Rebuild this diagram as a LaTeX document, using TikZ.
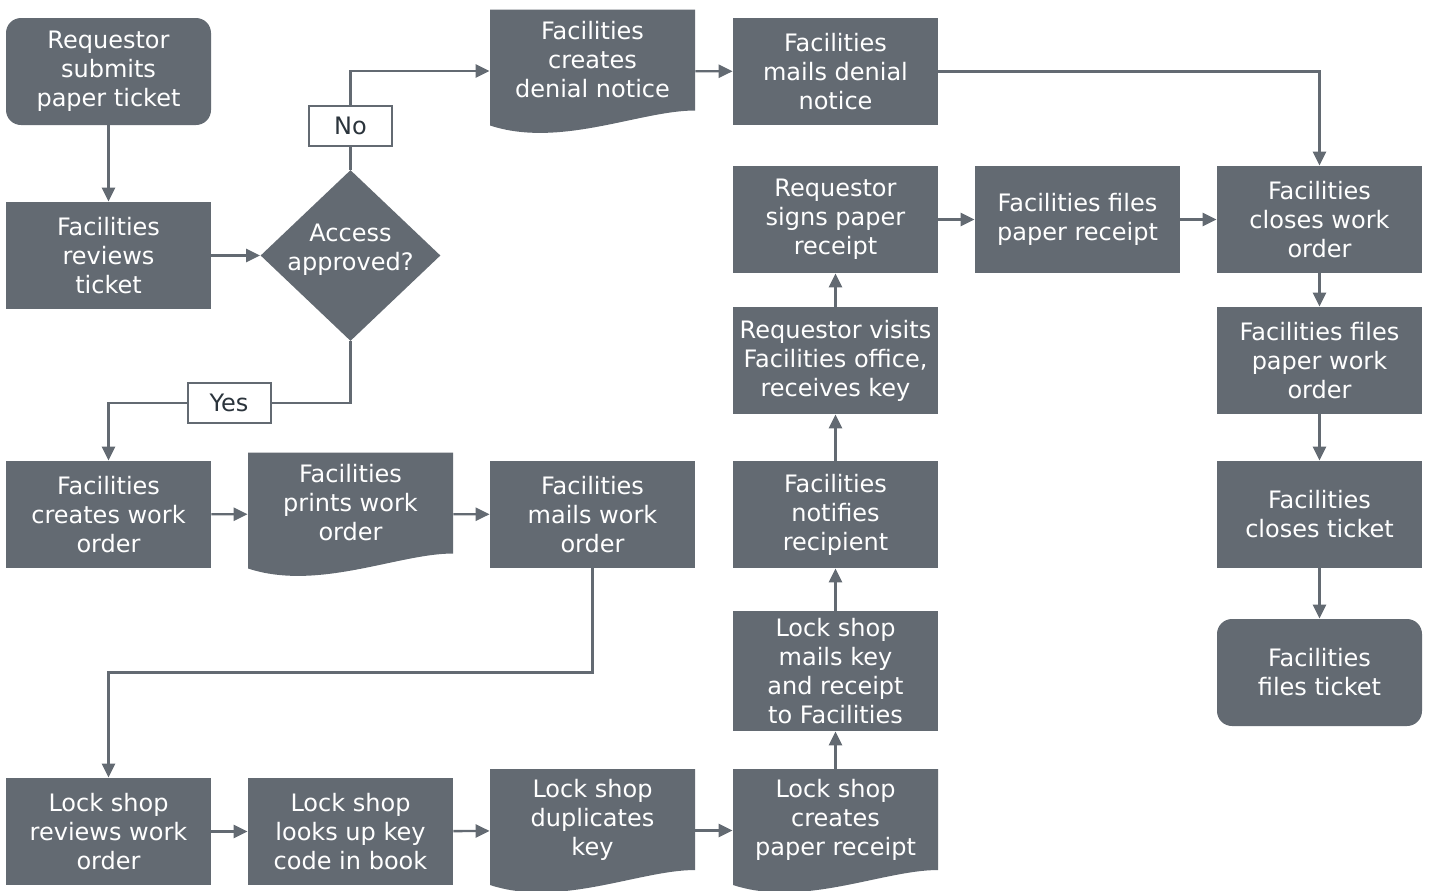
\documentclass[tikz,border=0pt]{standalone}
\usepackage{fontspec}
\setmainfont{DejaVu Sans}
\usetikzlibrary{arrows.meta,shapes.geometric}
\definecolor{flowgray}{RGB}{99,106,114}
\definecolor{labeltext}{RGB}{43,52,60}

\begin{document}
\begin{tikzpicture}[x=0.5pt, y=-0.5pt, > = {Triangle[length=7pt,width=6.5pt]},
    flow/.style = {->, line width=1.2pt, draw=flowgray},
    connector/.style = {line width=1.2pt, draw=flowgray},
    boxtxt/.style = {text=white, align=center, font=\fontsize{12}{14.5}\selectfont},
    process/.style = {boxtxt, rectangle, fill=flowgray, minimum width=102.5pt, minimum height=53.5pt, inner sep=0pt},
    terminal/.style = {process, rounded corners=7.5pt},
    paperdoc/.style = {rectangle, minimum width=102.5pt, minimum height=61.5pt, inner sep=0pt,
        path picture={\fill[flowgray] (-102.5,-61.5) -- (102.5,-61.5) -- (102.5,39.5) .. controls (47.5,39.5) and (-32.5,77.5) .. (-102.5,54.5) -- cycle;},
        label={[boxtxt, yshift=5.5pt]center:#1}},
    decision/.style = {diamond, fill=flowgray, minimum width=90pt, minimum height=85.5pt, inner sep=0pt, label={[boxtxt, yshift=3pt]center:#1}},
    answer/.style = {rectangle, fill=white, draw=flowgray, line width=1pt, text=labeltext, minimum width=41.5pt, minimum height=20pt, inner sep=0pt, font=\fontsize{12}{14.5}\selectfont}]

    \useasboundingbox (0,0) rectangle (1431,890);

    % request and decision
    \node[terminal] (rst) at (108.5,71.5) {Requestor\\submits\\paper ticket};
    \node[process] (frt) at (108.5,255.5) {Facilities\\reviews\\ticket};
    \node[decision={Access\\approved?}] (acc) at (350.5,255.5) {};
    \node[answer] (no) at (350.5,126) {No};
    \node[answer] (yes) at (229,403) {Yes};

    % denial branch
    \node[paperdoc={Facilities\\creates\\denial notice}] (cdn) at (592.5,71) {};
    \node[process] (mdn) at (835.5,71.5) {Facilities\\mails denial\\notice};

    % work order branch
    \node[process] (cwo) at (108.5,514.5) {Facilities\\creates work\\order};
    \node[paperdoc={Facilities\\prints work\\order}] (pwo) at (350.5,514) {};
    \node[process] (mwo) at (592.5,514.5) {Facilities\\mails work\\order};
    \node[process] (lrw) at (108.5,831.5) {Lock shop\\reviews work\\order};
    \node[process] (llu) at (350.5,831.5) {Lock shop\\looks up key\\code in book};
    \node[paperdoc={Lock shop\\duplicates\\key}] (ldk) at (592.5,830.5) {};
    \node[paperdoc={Lock shop\\creates\\paper receipt}] (lcr) at (835.5,830.5) {};
    \node[process, minimum height=60pt] (lmk) at (835.5,671) {Lock shop\\mails key\\and receipt\\to Facilities};
    \node[process] (fnr) at (835.5,514.5) {Facilities\\notifies\\recipient};
    \node[process] (rvk) at (835.5,360.5) {Requestor visits\\Facilities office,\\receives key};
    \node[process] (rsr) at (835.5,219.5) {Requestor\\signs paper\\receipt};
    \node[process] (ffr) at (1077.5,219.5) {Facilities files\\paper receipt};

    % closing
    \node[process] (fcw) at (1319.5,219.5) {Facilities\\closes work\\order};
    \node[process] (fpw) at (1319.5,360.5) {Facilities files\\paper work\\order};
    \node[process] (fct) at (1319.5,514.5) {Facilities\\closes ticket};
    \node[terminal] (fft) at (1319.5,672.5) {Facilities\\files ticket};

    % arrows
    \draw[flow] (rst) -- (frt);
    \draw[flow] (frt) -- (acc);
    \draw[connector] (acc) -- (no);
    \draw[flow] (no) |- (cdn);
    \draw[flow] (cdn) -- (mdn);
    \draw[flow] (mdn) -| (fcw);
    \draw[connector] (acc) |- (yes);
    \draw[flow] (yes) -| (cwo);
    \draw[flow] (cwo) -- (pwo);
    \draw[flow] (pwo) -- (mwo);
    \draw[flow] (mwo.south) -- ++(0,104) -| (lrw.north);
    \draw[flow] (lrw) -- (llu);
    \draw[flow] (llu) -- (ldk);
    \draw[flow] (ldk) -- (lcr);
    \draw[flow] (lcr) -- (lmk);
    \draw[flow] (lmk) -- (fnr);
    \draw[flow] (fnr) -- (rvk);
    \draw[flow] (rvk) -- (rsr);
    \draw[flow] (rsr) -- (ffr);
    \draw[flow] (ffr) -- (fcw);
    \draw[flow] (fcw) -- (fpw);
    \draw[flow] (fpw) -- (fct);
    \draw[flow] (fct) -- (fft);

\end{tikzpicture}
\end{document}
